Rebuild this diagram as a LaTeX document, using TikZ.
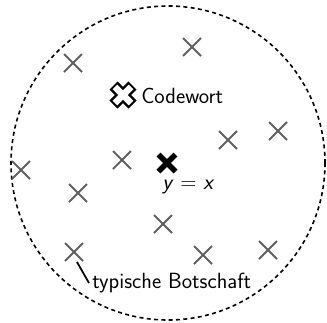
\documentclass[tikz,border=0pt]{standalone}
\usepackage{fontspec}
\usetikzlibrary{calc}
\begin{document}
\begin{tikzpicture}[x=0.75pt,y=-0.75pt,
  msg/.style={draw=gray!75!black, line width=1.5pt},
  lbl/.style={font=\sffamily\fontsize{16.5}{19}\selectfont, inner sep=0pt}]
\useasboundingbox (0,0) rectangle (327,322);
\draw[dashed, line width=1.2pt, dash pattern=on 3pt off 2.5pt] (168,163) circle (157);
% gray crosses
\foreach \n/\x/\y in {a/192/47, b/73/63, c/228/140, d/278/131, e/122/160, f/21/170, g/78/193, h/163/224, i/74/252, j/203/255, k/268/250}{
  \coordinate (\n) at (\x,\y);
  \draw[msg] ($(\n)+(-9,-9)$) -- ($(\n)+(9,9)$);
  \draw[msg] ($(\n)+(-9,9)$) -- ($(\n)+(9,-9)$);
}
% center bold cross
\coordinate (y) at (167,163);
\draw[line width=4pt] ($(y)+(-8.5,-8.5)$) -- ($(y)+(8.5,8.5)$) ($(y)+(-8.5,8.5)$) -- ($(y)+(8.5,-8.5)$);
\node[lbl, anchor=west] (ylab) at (162,187) {\textit{y} = \textit{x}};
% codewort symbol
\coordinate (cw) at (123,95);
\draw[line width=8.5pt] ($(cw)+(-9.5,-9.5)$) -- ($(cw)+(9.5,9.5)$) ($(cw)+(-9.5,9.5)$) -- ($(cw)+(9.5,-9.5)$);
\draw[line width=5pt, white] ($(cw)+(-8.1,-8.1)$) -- ($(cw)+(8.1,8.1)$) ($(cw)+(-8.1,8.1)$) -- ($(cw)+(8.1,-8.1)$);
\node[lbl, anchor=west] (cwl) at (141,96) {Codewort};
% typische Botschaft
\node[lbl, anchor=west] (tb) at (92,283) {typische Botschaft};
\coordinate (t1) at (77,262);
\draw[line width=1.3pt] (t1) -- (89,283);
\end{tikzpicture}
\end{document}
